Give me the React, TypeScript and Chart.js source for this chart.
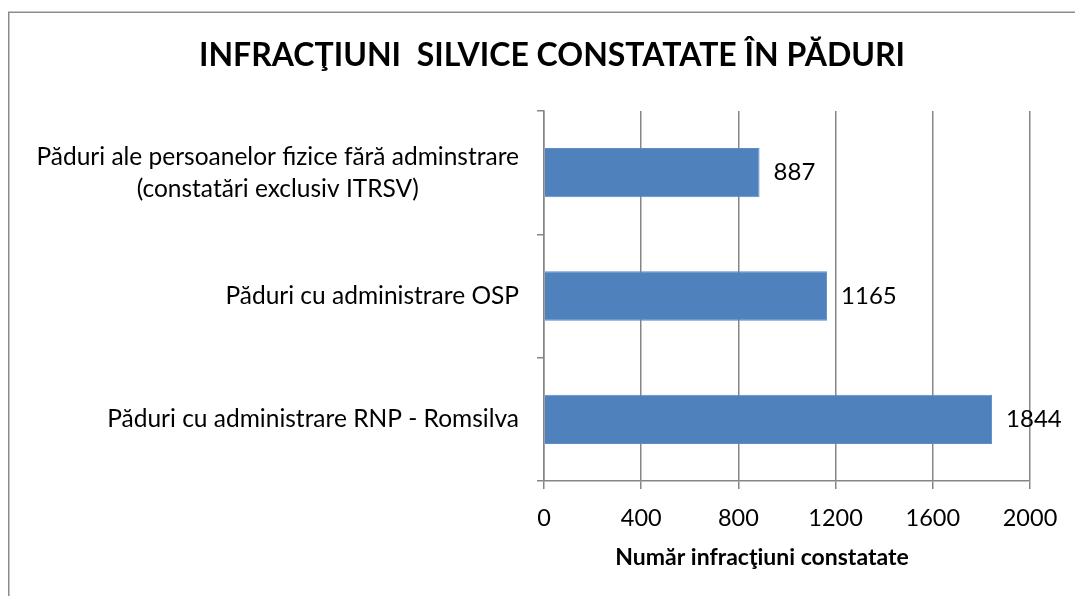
import React, { useEffect, useRef } from "react";
import { Chart, registerables } from "chart.js";

Chart.register(...registerables);

const categories: string[][] = [
  ["Păduri ale persoanelor fizice fără adminstrare", "(constatări exclusiv ITRSV)"],
  ["Păduri cu administrare OSP"],
  ["Păduri cu administrare RNP - Romsilva"],
];
const values: number[] = [887, 1165, 1844];
const xTicks: number[] = [0, 400, 800, 1200, 1600, 2000];
const titleText = "INFRACŢIUNI  SILVICE CONSTATATE ÎN PĂDURI";
const axisTitle = "Număr infracţiuni constatate";

const FONT = "Lato, 'Open Sans', sans-serif";
const GRID = "#868686";
const BAR = "#4F81BD";

export default function App() {
  const ref = useRef<HTMLCanvasElement | null>(null);
  useEffect(() => {
    document.body.style.margin = "0";
    const canvas = ref.current!;
    const custom = {
      id: "custom",
      beforeDraw(chart: any) {
        const ctx = chart.ctx;
        ctx.save();
        ctx.fillStyle = "#fff";
        ctx.fillRect(0, 0, chart.width, chart.height);
        ctx.strokeStyle = "#8c8c8c";
        ctx.lineWidth = 1.5;
        ctx.strokeRect(8.75, 12.25, 2000, 2000);
        ctx.restore();
      },
      afterDraw(chart: any) {
        const ctx = chart.ctx;
        const y = chart.scales.y;
        ctx.save();
        ctx.fillStyle = "#000";
        ctx.textAlign = "center";
        ctx.textBaseline = "middle";
        // title
        ctx.font = `bold 32px ${FONT}`;
        ctx.fillText(titleText, 552, 56);
        // axis title
        ctx.font = `bold 23px ${FONT}`;
        ctx.fillText(axisTitle, 762, 558);
        // category labels
        ctx.font = `24.5px ${FONT}`;
        const right = 519;
        const lh = 32;
        categories.forEach((lines, i) => {
          const cy = y.getPixelForValue(i);
          const maxW = Math.max(...lines.map((l) => ctx.measureText(l).width));
          const cx = right - maxW / 2;
          const y0 = cy - ((lines.length - 1) * lh) / 2;
          lines.forEach((l, j) => ctx.fillText(l, cx, y0 + j * lh));
        });
        // data labels
        ctx.font = `24px ${FONT}`;
        ctx.textAlign = "left";
        const meta = chart.getDatasetMeta(0);
        meta.data.forEach((el: any, i: number) => {
          ctx.fillText(String(values[i]), el.x + 14, el.y);
        });
        ctx.restore();
      },
    };
    const chart = new Chart(canvas, {
      type: "bar",
      data: {
        labels: categories.map((c) => c.join(" ")),
        datasets: [
          {
            data: values,
            backgroundColor: BAR,
            borderColor: "#5b8cc6",
            borderWidth: 1,
            barPercentage: 0.4,
            categoryPercentage: 1,
          },
        ],
      },
      options: {
        indexAxis: "y",
        animation: false,
        responsive: false,
        maintainAspectRatio: false,
        layout: { padding: { left: 0, top: 111, right: 45, bottom: 0 } },
        plugins: {
          legend: { display: false },
          title: { display: false },
          tooltip: { enabled: false },
        },
        scales: {
          x: {
            min: 0,
            max: 2000,
            afterBuildTicks: (scale: any) => {
              scale.ticks = xTicks.map((v) => ({ value: v }));
            },
            afterFit: (scale: any) => {
              scale.height = 115;
            },
            grid: {
              color: GRID,
              lineWidth: 1.5,
              tickLength: 8,
              drawTicks: true,
            },
            border: { color: GRID, width: 1.5 },
            ticks: {
              color: "#000",
              font: { family: FONT, size: 23.5 },
              padding: 15,
              callback: (v: any) => String(v),
            },
          },
          y: {
            afterFit: (scale: any) => {
              scale.width = 544;
            },
            grid: {
              color: GRID,
              lineWidth: 1.5,
              drawOnChartArea: false,
              tickLength: 7,
              offset: true,
            },
            border: { color: GRID, width: 1.5 },
            ticks: { display: false },
          },
        },
      },
      plugins: [custom],
    });
    return () => chart.destroy();
  }, []);
  return (
    <div style={{ position: "absolute", left: 0, top: 0, width: 1075, height: 596 }}>
      <canvas ref={ref} width={1075} height={596} style={{ display: "block" }} />
    </div>
  );
}
